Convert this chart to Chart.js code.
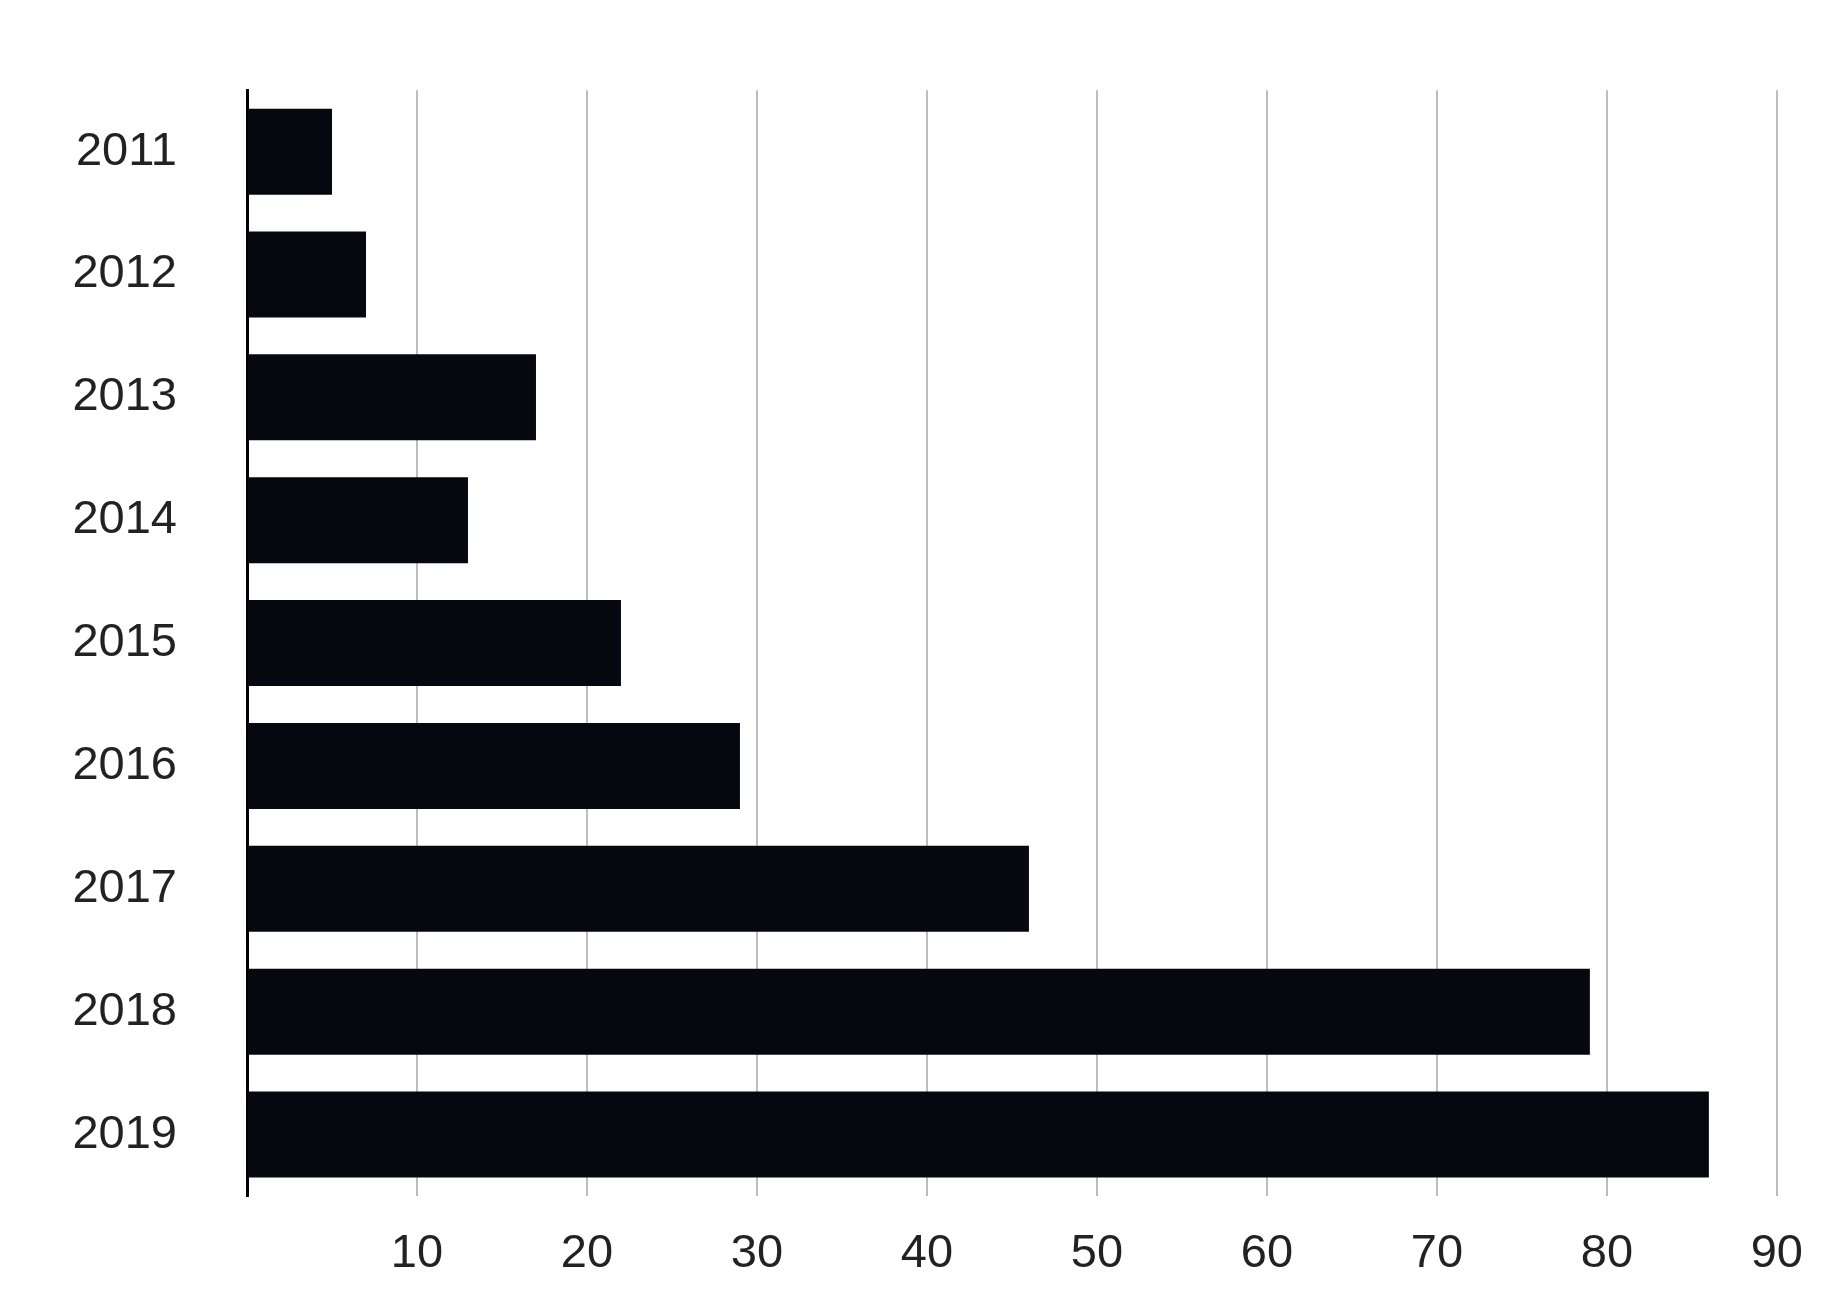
<!DOCTYPE html>
<html><head><script src="https://cdn.jsdelivr.net/npm/chart.js@4/dist/chart.umd.min.js"></script>
<style>html,body{margin:0;background:#fff}#w{width:1833px;height:1314px}</style></head>
<body><div id="w"><canvas id="c"></canvas></div>
<script>
const categories=["2011","2012","2013","2014","2015","2016","2017","2018","2019"];
const values=[5,7,17,13,22,29,46,79,86];
const xTicks=[0,10,20,30,40,50,60,70,80,90];
new Chart(document.getElementById('c'),{
 type:'bar',
 data:{labels:categories,datasets:[{data:values,backgroundColor:'#05080f',barPercentage:0.7,categoryPercentage:1}]},
 options:{indexAxis:'y',responsive:true,maintainAspectRatio:false,animation:false,
  layout:{padding:{top:65,right:56,left:0,bottom:0}},
  plugins:{legend:{display:false},tooltip:{enabled:false}},
  scales:{
   x:{min:0,max:90,afterFit:s=>{s.height=118;},
      afterBuildTicks:s=>{s.ticks=xTicks.map(v=>({value:v}));},
      border:{display:false},
      grid:{drawTicks:false,lineWidth:2,color:c=>c.tick&&c.tick.value===0?'rgba(0,0,0,0)':'#bdbdbd'},
      ticks:{padding:30,color:'#222',font:{family:'Liberation Sans',size:47},callback:v=>v===0?'':v}},
   y:{afterFit:s=>{s.width=247;},border:{display:true,color:'#000',width:3},
      grid:{display:false},
      ticks:{padding:62,color:'#222',font:{family:'Liberation Sans',size:47}}}
  }}
});
</script></body></html>
